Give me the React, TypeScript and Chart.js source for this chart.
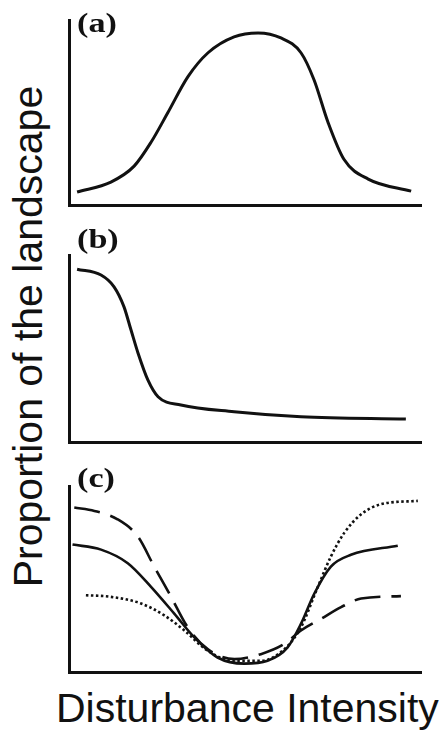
import React, { useEffect, useRef } from "react";
import { Chart, registerables } from "chart.js";

Chart.register(...registerables);

// Panel (a): hump-shaped response
const aX = [2.3, 11.9, 18.5, 23.3, 28.1, 33.8, 39.5, 46.9, 53.7, 60.2, 65.9, 69.6, 73.6, 78.1, 85.0, 97.2];
const aY = [7.0, 12.4, 21.0, 33.9, 50.0, 69.4, 82.3, 90.9, 93.0, 90.3, 82.3, 67.7, 44.6, 24.7, 14.0, 7.5];

// Panel (b): declining response
const bX = [2.3, 9.1, 12.8, 15.6, 17.6, 19.6, 22.4, 25.3, 31.8, 46.9, 65.9, 95.7];
const bY = [92.4, 89.3, 83.0, 72.4, 60.0, 47.6, 33.2, 24.2, 19.8, 16.2, 13.5, 12.3];

// Panel (c): U-shaped responses
const cSolidX = [1.0, 9.1, 16.7, 23.3, 29.9, 35.6, 42.2, 49.8, 56.4, 62.1, 65.9, 69.7, 74.4, 80.1, 93.4];
const cSolidY = [68.5, 65.8, 58.5, 45.8, 31.4, 18.6, 7.8, 4.5, 6.0, 13.2, 25.9, 42.2, 56.7, 63.0, 67.9];

const cDashX = [1.5, 7.2, 13.8, 19.5, 24.2, 29.0, 33.7, 39.4, 47.0, 54.5, 61.2, 65.9, 71.6, 77.3, 83.0, 94.3];
const cDashY = [88.4, 86.6, 82.1, 73.0, 56.7, 40.4, 24.1, 12.3, 6.9, 9.6, 15.1, 22.3, 28.6, 34.9, 39.5, 40.8];

const cDotX = [4.8, 11.9, 20.5, 27.1, 32.8, 39.4, 47.0, 54.5, 61.2, 65.9, 70.7, 74.4, 78.2, 83.0, 88.6, 99.1];
const cDotY = [41.3, 40.4, 36.8, 30.4, 22.3, 11.4, 6.0, 6.0, 12.3, 24.1, 45.8, 62.1, 74.8, 84.8, 90.2, 92.0];

const panelLabels = ["(a)", "(b)", "(c)"];
const xTitle = "Disturbance Intensity";
const yTitle = "Proportion of the landscape";

const PAD = 8;
const PANELS = [
  { L: 69, R: 421, T: 20, B: 205 },
  { L: 69, R: 421, T: 255, B: 442 },
  { L: 69, R: 421, T: 486, B: 672 },
];

function pts(xs: number[], ys: number[]) {
  return xs.map((x, i) => ({ x, y: ys[i] }));
}

function line(xs: number[], ys: number[], width: number, dash: number[] = []) {
  return {
    data: pts(xs, ys),
    borderColor: "#111",
    borderWidth: width,
    borderDash: dash,
    pointRadius: 0,
    fill: false,
    cubicInterpolationMode: "monotone" as const,
    clip: false as any,
  };
}

const axisCommon = {
  type: "linear" as const,
  min: 0,
  max: 100,
  grid: { display: false, drawTicks: false },
  ticks: { display: false },
  border: { display: true, color: "#111", width: 3 },
};

function PanelChart({ idx, datasets }: { idx: number; datasets: any[] }) {
  const ref = useRef<HTMLCanvasElement | null>(null);
  const g = PANELS[idx];
  const w = g.R - g.L + 2 * PAD;
  const h = g.B - g.T + 2 * PAD;
  useEffect(() => {
    if (!ref.current) return;
    const chart = new Chart(ref.current, {
      type: "line",
      data: { datasets },
      options: {
        animation: false,
        responsive: false,
        maintainAspectRatio: false,
        layout: { padding: PAD },
        plugins: { legend: { display: false }, tooltip: { enabled: false } },
        events: [],
        scales: {
          x: { ...axisCommon, afterFit: (s: any) => { s.height = 0; } },
          y: { ...axisCommon, afterFit: (s: any) => { s.width = 0; } },
        },
      } as any,
    });
    return () => chart.destroy();
  }, []);
  return (
    <div style={{ position: "absolute", left: g.L - PAD, top: g.T - PAD, width: w, height: h }}>
      <canvas ref={ref} width={w} height={h} style={{ width: w, height: h, display: "block" }} />
    </div>
  );
}

const labelTops = [9, 225, 464];

export default function App() {
  return (
    <div
      style={{
        position: "absolute",
        left: 0,
        top: 0,
        width: 445,
        height: 733,
        overflow: "hidden",
        background: "#fff",
      }}
    >
      <PanelChart idx={0} datasets={[line(aX, aY, 3)]} />
      <PanelChart idx={1} datasets={[line(bX, bY, 3)]} />
      <PanelChart
        idx={2}
        datasets={[
          line(cSolidX, cSolidY, 2.6),
          line(cDashX, cDashY, 2.6, [26, 11]),
          line(cDotX, cDotY, 2.6, [2.5, 2.5]),
        ]}
      />
      {panelLabels.map((t, i) => (
        <div
          key={t}
          style={{
            position: "absolute",
            left: 77,
            top: labelTops[i],
            fontFamily: '"Liberation Serif", "Times New Roman", serif',
            fontWeight: "bold",
            fontSize: 28,
            lineHeight: "28px",
            color: "#111",
            transform: "scaleX(1.22)",
            transformOrigin: "left center",
            whiteSpace: "nowrap",
          }}
        >
          {t}
        </div>
      ))}
      <div
        style={{
          position: "absolute",
          left: 27.5 - 280,
          top: 336.5 - 20.5,
          width: 560,
          height: 41,
          lineHeight: "41px",
          fontSize: 41,
          fontFamily: '"Liberation Sans", Arial, sans-serif',
          color: "#111",
          textAlign: "center",
          whiteSpace: "nowrap",
          transform: "rotate(-90deg)",
          transformOrigin: "center center",
        }}
      >
        {yTitle}
      </div>
      <div
        style={{
          position: "absolute",
          left: 56,
          top: 688,
          height: 41,
          lineHeight: "41px",
          fontSize: 41,
          fontFamily: '"Liberation Sans", Arial, sans-serif',
          color: "#111",
          whiteSpace: "nowrap",
        }}
      >
        {xTitle}
      </div>
    </div>
  );
}
